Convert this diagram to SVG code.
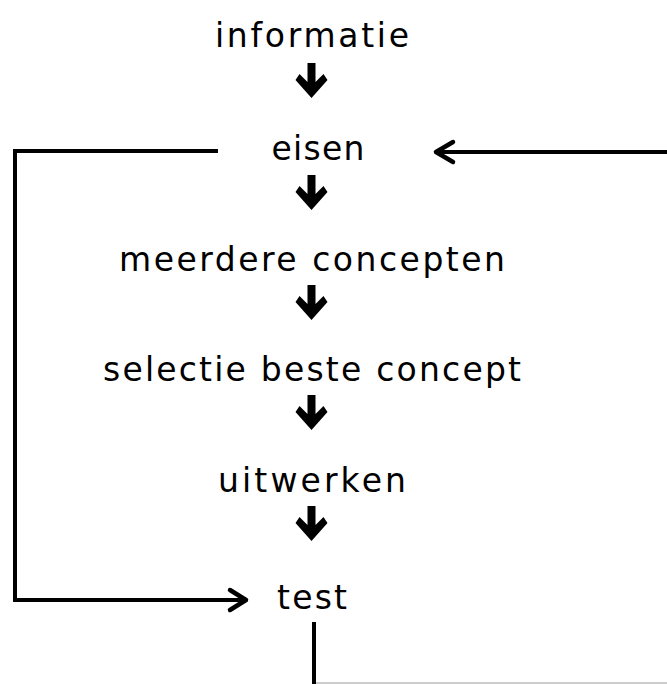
<svg xmlns="http://www.w3.org/2000/svg" width="667" height="684" viewBox="0 0 667 684">
<style>
text{font-family:"DejaVu Sans","Liberation Sans",sans-serif;font-size:33px;fill:#000;text-anchor:middle}
.ln{fill:none;stroke:#000;stroke-width:4}
.hd{fill:none;stroke:#000;stroke-width:4.5;stroke-linecap:round;stroke-linejoin:round}
.da{fill:#000}
</style>
<defs>
<polygon id="down" points="-4,0 4,0 4,19 12,11 16,17 0,35 -16,17 -12,11 -4,19"/>
</defs>
<rect width="667" height="684" fill="#fff"/>
<g id="n1"><text x="312" y="47" textLength="194" lengthAdjust="spacing">informatie</text></g>
<g id="n2"><text x="318" y="160" textLength="93" lengthAdjust="spacing">eisen</text></g>
<g id="n3"><text x="312" y="271" textLength="386" lengthAdjust="spacing">meerdere concepten</text></g>
<g id="n4"><text x="312" y="381" textLength="418" lengthAdjust="spacing">selectie beste concept</text></g>
<g id="n5"><text x="312" y="492" textLength="188" lengthAdjust="spacing">uitwerken</text></g>
<g id="n6"><text x="312" y="609" textLength="70" lengthAdjust="spacing">test</text></g>
<g id="connectors">
<use href="#down" class="da" x="311.5" y="63"/>
<use href="#down" class="da" x="311.5" y="175"/>
<use href="#down" class="da" x="311.5" y="285"/>
<use href="#down" class="da" x="311.5" y="395"/>
<use href="#down" class="da" x="311.5" y="506"/>
<path class="ln" d="M218,151 H15 V600 H244"/>
<polyline class="hd" points="230,590 246,600 230,610"/>
<line class="ln" x1="667" y1="152" x2="436" y2="152"/>
<polyline class="hd" points="453,142 436,152 453,162"/>
<line class="ln" x1="314" y1="622" x2="314" y2="684"/>
<line x1="316" y1="683" x2="667" y2="683" stroke="#999" stroke-width="1"/>
</g>
</svg>
